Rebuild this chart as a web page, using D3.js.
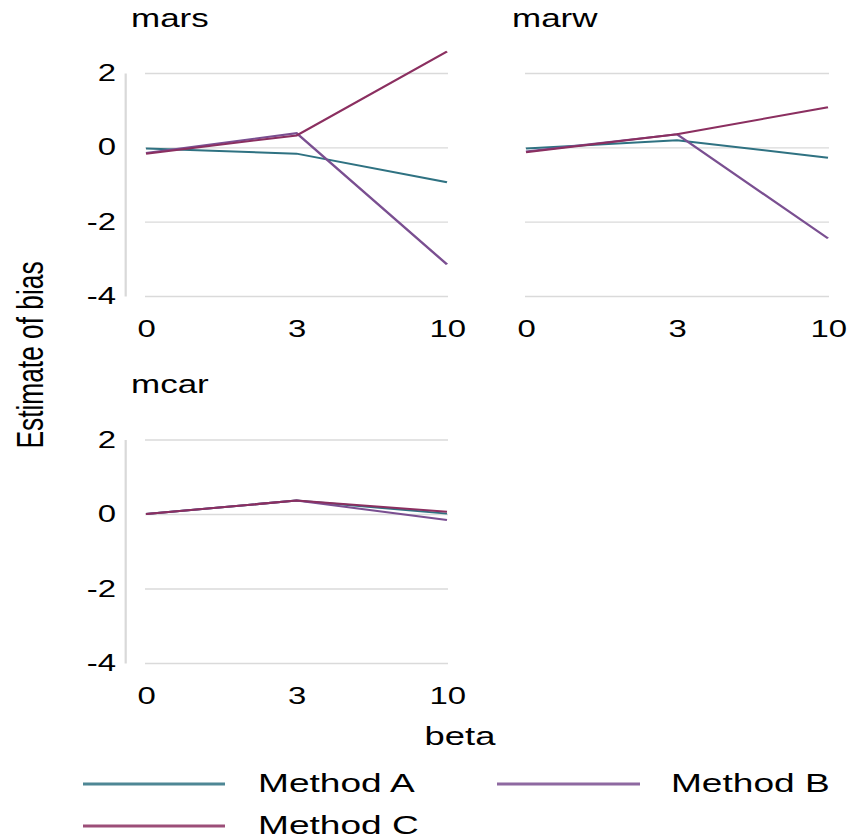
<!DOCTYPE html>
<html>
<head>
<meta charset="utf-8">
<script src="https://cdn.jsdelivr.net/npm/d3@7"></script>
<style>
  body { margin: 0; background: #fff; }
  svg { display: block; font-family: "Liberation Sans", Arial, sans-serif; }
</style>
</head>
<body>
<div id="chart"></div>
<script>
// data
var betas = ["0", "3", "10"];
var methods = ["Method A", "Method B", "Method C"];
var colors = ["#2f7282", "#7a4f91", "#8b2f60"];
var yTicks = [2, 0, -2, -4];

var marsA = [-0.03, -0.17, -0.94];
var marsB = [-0.15, 0.38, -3.15];
var marsC = [-0.17, 0.32, 2.58];

var marwA = [-0.03, 0.19, -0.28];
var marwB = [-0.11, 0.35, -2.45];
var marwC = [-0.13, 0.35, 1.08];

var mcarA = [0.00, 0.36, 0.01];
var mcarB = [0.00, 0.36, -0.16];
var mcarC = [0.00, 0.36, 0.06];

// the picture is stretched wide, so draw in a narrower box and stretch it
var SX = 1.4;
var W = 848 / SX, H = 839;
function px(v) { return v / SX; }

var panels = [
    { name: "mars", series: [marsA, marsB, marsC], left: 146, right: 447, top: 73, bottom: 296, yaxis: true, tx: 131, ty: 27 },
    { name: "marw", series: [marwA, marwB, marwC], left: 526, right: 828, top: 73, bottom: 296, yaxis: false, tx: 512, ty: 27 },
    { name: "mcar", series: [mcarA, mcarB, mcarC], left: 146, right: 447, top: 439.5, bottom: 663, yaxis: true, tx: 131, ty: 393 }
];

var svg = d3.select("#chart")
    .append("svg")
    .attr("width", 848)
    .attr("height", H)
    .attr("viewBox", "0 0 " + W + " " + H)
    .attr("preserveAspectRatio", "none");

function drawPanel(p) {
    var x = d3.scalePoint()
        .domain(betas)
        .range([px(p.left), px(p.right)]);
    var y = d3.scaleLinear()
        .domain([-4, 2])
        .range([p.bottom, p.top]);

    var g = svg.append("g");

    // grid lines
    g.append("g")
        .attr("transform", "translate(" + px(p.left - 1) + ",0)")
        .call(d3.axisLeft(y).tickValues(yTicks).tickSize(-(px(p.right) - px(p.left) + px(2))).tickFormat(""))
        .call(a => a.select(".domain").remove())
        .call(a => a.selectAll("line").attr("stroke", "#dadada").attr("stroke-width", 1.3));

    // y axis
    if (p.yaxis) {
        g.append("g")
            .attr("transform", "translate(" + px(125) + ",0)")
            .call(d3.axisLeft(y).tickValues(yTicks).tickSize(0).tickSizeOuter(0).tickPadding(px(9)).tickFormat(d => d < 0 ? "-" + Math.abs(d) : d))
            .call(a => a.select(".domain").attr("stroke", "#d9d9d9").attr("stroke-width", 1.6))
            .call(a => a.selectAll("text").attr("font-size", 23.5).attr("fill", "#000").attr("font-family", null));
    }

    // x axis
    g.append("g")
        .attr("transform", "translate(0," + p.bottom + ")")
        .call(d3.axisBottom(x).tickSize(0).tickPadding(24.5))
        .call(a => a.select(".domain").remove())
        .call(a => a.selectAll("text").attr("font-size", 23.5).attr("fill", "#000").attr("font-family", null));

    // title
    g.append("text")
        .attr("x", px(p.tx))
        .attr("y", p.ty)
        .attr("font-size", 25)
        .text(p.name);

    var line = d3.line()
        .x((d, i) => x(betas[i]))
        .y(d => y(d));

    p.series.forEach(function (s, i) {
        g.append("path")
            .datum(s)
            .attr("fill", "none")
            .attr("stroke", colors[i])
            .attr("stroke-width", 2)
            .attr("d", line);
    });
}

panels.forEach(drawPanel);

// axis titles
svg.append("text")
    .attr("x", px(460))
    .attr("y", 745)
    .attr("text-anchor", "middle")
    .attr("font-size", 26)
    .text("beta");

svg.append("text")
    .attr("transform", "translate(" + px(43) + ",355) rotate(-90)")
    .attr("text-anchor", "middle")
    .attr("font-size", 26.3)
    .text("Estimate of bias");

// legend
var legendPos = [
    { x1: 83, x2: 225, tx: 258, y: 784 },
    { x1: 497, x2: 640, tx: 671, y: 784 },
    { x1: 83, x2: 225, tx: 258, y: 826 }
];

var legend = svg.append("g")
    .selectAll("g")
    .data(methods)
    .enter()
    .append("g");

legend.append("line")
    .attr("x1", (d, i) => px(legendPos[i].x1))
    .attr("x2", (d, i) => px(legendPos[i].x2))
    .attr("y1", (d, i) => legendPos[i].y)
    .attr("y2", (d, i) => legendPos[i].y)
    .attr("stroke", (d, i) => colors[i])
    .attr("stroke-opacity", 0.85)
    .attr("stroke-width", 3);

legend.append("text")
    .attr("x", (d, i) => px(legendPos[i].tx))
    .attr("y", (d, i) => legendPos[i].y + 8.5)
    .attr("font-size", 26.5)
    .text(d => d);
</script>
</body>
</html>
